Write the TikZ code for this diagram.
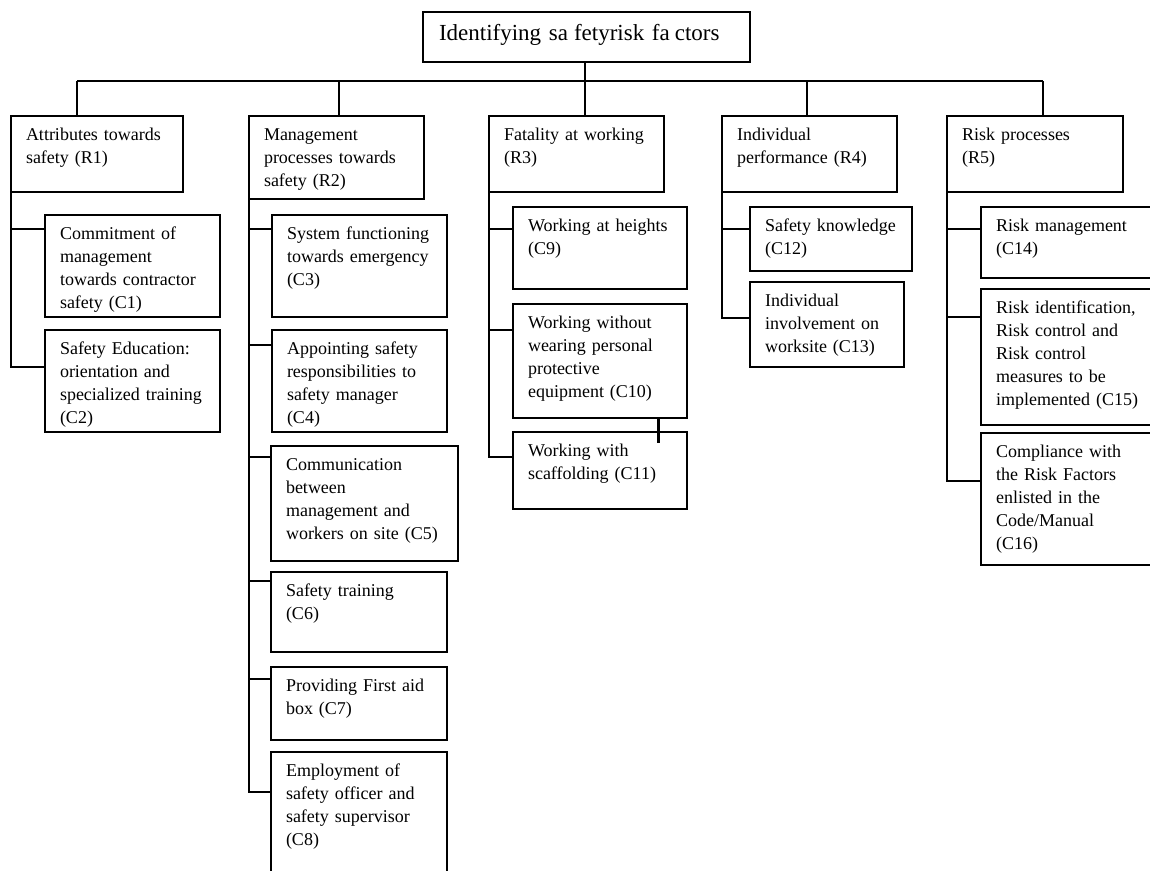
\documentclass[tikz,border=0pt]{standalone}
\usepackage{fontspec}
\setmainfont{Liberation Serif}
\usepackage{tikz}

\begin{document}
\begin{tikzpicture}[x=1pt, y=-1pt, line width=1.3pt,
        rootbox/.style = {draw, line width=1.5pt, anchor=north west, outer sep=0pt, inner xsep=16pt, inner ysep=8pt,
            text width=295pt, text height=20pt, text depth=14pt, align=left, font=\fontsize{23}{27}\selectfont},
        itembox/.style = {draw, line width=1.5pt, anchor=north west, outer sep=0pt, inner xsep=15pt, inner ysep=10pt,
            text width=145pt, text height=14pt, align=left, font=\fontsize{18}{23}\selectfont}]
            \useasboundingbox (0,0) rectangle (1150,870);

            % Nodes
            \node[rootbox] (0) at (423,12) {Identifying sa\hspace{6pt}fetyrisk fa\hspace{5pt}ctors};

            \node[itembox, text width=142pt, text depth=42pt] (r1) at (11,116) {Attributes towards\\ safety (R1)};
            \node[itembox, text depth=49pt] (r2) at (249,116) {Management\\ processes towards\\ safety (R2)};
            \node[itembox, text depth=42pt] (r3) at (489,116) {Fatality at working\\ (R3)};
            \node[itembox, text depth=42pt] (r4) at (722,116) {Individual\\ performance (R4)};
            \node[itembox, text width=146pt, text depth=42pt] (r5) at (947,116) {Risk processes\\ (R5)};

            \node[itembox, text depth=68pt] (c1) at (45,215) {Commitment of\\ management\\ towards contractor\\ safety (C1)};
            \node[itembox, text depth=68pt] (c2) at (45,330) {Safety Education:\\ orientation and\\ specialized training\\ (C2)};

            \node[itembox, text depth=68pt] (c3) at (272,215) {System functioning\\ towards emergency\\ (C3)};
            \node[itembox, text depth=68pt] (c4) at (272,330) {Appointing safety\\ responsibilities to\\ safety manager\\ (C4)};
            \node[itembox, text width=157pt, text depth=81pt] (c5) at (271,446) {Communication\\ between\\ management and\\ workers on site (C5)};
            \node[itembox, text width=146pt, text depth=46pt] (c6) at (271,572) {Safety training\\ (C6)};
            \node[itembox, text width=146pt, text depth=39pt] (c7) at (271,667) {Providing First aid\\ box (C7)};
            \node[itembox, text width=146pt, text depth=106pt] (c8) at (271,752) {Employment of\\ safety officer and\\ safety supervisor\\ (C8)};

            \node[itembox, text width=144pt, text depth=48pt] (c9) at (513,207) {Working at heights\\ (C9)};
            \node[itembox, text width=144pt, text depth=80pt] (c10) at (513,304) {Working without\\ wearing personal\\ protective\\ equipment (C10)};
            \node[itembox, text width=144pt, text depth=43pt] (c11) at (513,432) {Working with\\ scaffolding (C11)};

            \node[itembox, text width=132pt, text depth=30pt] (c12) at (750,207) {Safety knowledge\\ (C12)};
            \node[itembox, text width=124pt, text depth=51pt] (c13) at (750,282) {Individual\\ involvement on\\ worksite (C13)};

            \node[itembox, text width=160pt, text depth=37pt] (c14) at (981,207) {Risk management\\ (C14)};
            \node[itembox, text width=160pt, text depth=102pt] (c15) at (981,289) {Risk identification,\\ Risk control and\\ Risk control\\ measures to be\\ implemented (C15)};
            \node[itembox, text width=160pt, text depth=98pt] (c16) at (981,433) {Compliance with\\ the Risk Factors\\ enlisted in the\\ Code/Manual\\ (C16)};

            % Bus
            \coordinate (b1) at (77,81);
            \coordinate (b2) at (339,81);
            \coordinate (b3) at (585,81);
            \coordinate (b4) at (807,81);
            \coordinate (b5) at (1043,81);
            \draw (b1) -- (b5);
            \draw (b3 |- 0.south) -- (b3);
            \draw (b1) -- (b1 |- r1.north);
            \draw (b2) -- (b2 |- r2.north);
            \draw (b3) -- (b3 |- r3.north);
            \draw (b4) -- (b4 |- r4.north);
            \draw (b5) -- (b5 |- r5.north);

            % Lines
            \draw (r1.south west) |- ([yshift=-14pt]c1.north west);
            \draw (r1.south west) |- ([yshift=-37pt]c2.north west);

            \draw (r2.south west) |- ([yshift=-14pt]c3.north west);
            \draw (r2.south west) |- ([yshift=-15pt]c4.north west);
            \draw (r2.south west) |- ([yshift=-11pt]c5.north west);
            \draw (r2.south west) |- ([yshift=-9pt]c6.north west);
            \draw (r2.south west) |- ([yshift=-12pt]c7.north west);
            \draw (r2.south west) |- ([yshift=-40pt]c8.north west);

            \draw (r3.south west) |- ([yshift=-22pt]c9.north west);
            \draw (r3.south west) |- ([yshift=-26pt]c10.north west);
            \draw (r3.south west) |- ([yshift=-25pt]c11.north west);
            \draw[line width=3pt] ([xshift=-29pt]c10.south east) -- ++(0,25);

            \draw (r4.south west) |- ([yshift=-22pt]c12.north west);
            \draw (r4.south west) |- ([yshift=-36pt]c13.north west);

            \draw (r5.south west) |- ([yshift=-22pt]c14.north west);
            \draw (r5.south west) |- ([yshift=-28pt]c15.north west);
            \draw (r5.south west) |- ([yshift=-48pt]c16.north west);
        \end{tikzpicture}
\end{document}
